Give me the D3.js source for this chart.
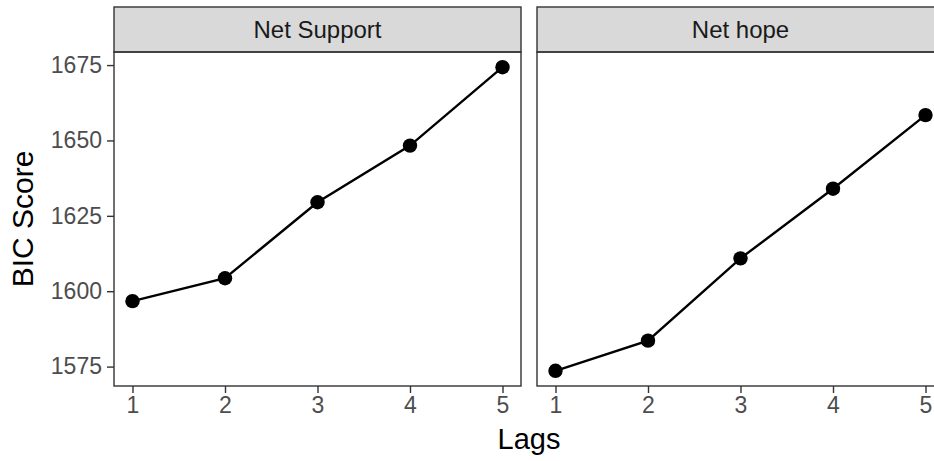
<!DOCTYPE html>
<html>
<head>
<meta charset="utf-8">
<script src="https://cdn.jsdelivr.net/npm/d3@7"></script>
<style>
  html, body { margin: 0; padding: 0; background: #fff; overflow: hidden; }
  svg { display: block; font-family: "Liberation Sans", Arial, Helvetica, sans-serif; }
</style>
</head>
<body>
<svg id="chart" width="934" height="461"></svg>
<script>
// BIC score by number of lags, one facet per model
const facets = ["Net Support", "Net hope"];
const lags = [1, 2, 3, 4, 5];
const netSupport = [1596.7, 1604.3, 1629.5, 1648.3, 1674.3];
const netHope = [1573.6, 1583.6, 1610.9, 1634.0, 1658.4];
const yTicks = [1575, 1600, 1625, 1650, 1675];
const xTitle = "Lags";
const yTitle = "BIC Score";

const seriesByFacet = [netSupport, netHope];

const svg = d3.select("#chart");

// layout
const panelTop = 52, panelBottom = 386, stripH = 45;
const panelW = 407, gap = 16;
const panelLefts = [114, 114 + panelW + gap];

// scales with ggplot-style 5% expansion
const allY = netSupport.concat(netHope);
const yMin = d3.min(allY), yMax = d3.max(allY);
const yPad = (yMax - yMin) * 0.05;
const y = d3.scaleLinear()
  .domain([yMin - yPad, yMax + yPad])
  .range([panelBottom, panelTop]);

const xPad = (d3.max(lags) - d3.min(lags)) * 0.05;

facets.forEach((name, i) => {
  const left = panelLefts[i];
  const x = d3.scaleLinear()
    .domain([d3.min(lags) - xPad, d3.max(lags) + xPad])
    .range([left, left + panelW]);

  const g = svg.append("g");

  // strip
  g.append("rect")
    .attr("x", left).attr("y", panelTop - stripH)
    .attr("width", panelW).attr("height", stripH)
    .attr("fill", "#D9D9D9").attr("stroke", "#333333").attr("stroke-width", 1.4);
  g.append("text")
    .attr("x", left + panelW / 2).attr("y", panelTop - stripH / 2)
    .attr("dy", "0.35em").attr("text-anchor", "middle")
    .attr("fill", "#1A1A1A").attr("font-size", 24)
    .text(name);

  // panel border
  g.append("rect")
    .attr("x", left).attr("y", panelTop)
    .attr("width", panelW).attr("height", panelBottom - panelTop)
    .attr("fill", "none").attr("stroke", "#333333").attr("stroke-width", 1.4);

  // x axis
  const xAxis = g.append("g")
    .attr("transform", `translate(0,${panelBottom})`)
    .call(d3.axisBottom(x).tickValues(lags).tickFormat(d3.format("d"))
      .tickSize(7).tickPadding(4));
  xAxis.select(".domain").remove();
  xAxis.selectAll(".tick line").attr("stroke", "#333333").attr("stroke-width", 1.4);
  xAxis.selectAll(".tick text").attr("fill", "#4D4D4D").attr("font-size", 23)
    .attr("font-family", "Liberation Sans, Arial, sans-serif");

  // y axis only on the first facet
  if (i === 0) {
    const yAxis = g.append("g")
      .attr("transform", `translate(${left},0)`)
      .call(d3.axisLeft(y).tickValues(yTicks).tickFormat(d3.format("d"))
        .tickSize(7).tickPadding(5));
    yAxis.select(".domain").remove();
    yAxis.selectAll(".tick line").attr("stroke", "#333333").attr("stroke-width", 1.4);
    yAxis.selectAll(".tick text").attr("fill", "#4D4D4D").attr("font-size", 23)
      .attr("font-family", "Liberation Sans, Arial, sans-serif");
  }

  const pts = lags.map((l, k) => ({ lag: l, v: seriesByFacet[i][k] }));

  g.append("path")
    .datum(pts)
    .attr("fill", "none").attr("stroke", "#000").attr("stroke-width", 2.4)
    .attr("d", d3.line().x(d => x(d.lag)).y(d => y(d.v)));

  g.selectAll("circle")
    .data(pts).join("circle")
    .attr("cx", d => x(d.lag)).attr("cy", d => y(d.v))
    .attr("r", 7.2).attr("fill", "#000");
});

// axis titles
svg.append("text")
  .attr("x", (panelLefts[0] + panelLefts[1] + panelW) / 2).attr("y", 449)
  .attr("text-anchor", "middle").attr("fill", "#000").attr("font-size", 29)
  .text(xTitle);

svg.append("text")
  .attr("transform", `translate(33,${(panelTop + panelBottom) / 2}) rotate(-90)`)
  .attr("text-anchor", "middle").attr("fill", "#000").attr("font-size", 30)
  .text(yTitle);
</script>
</body>
</html>
